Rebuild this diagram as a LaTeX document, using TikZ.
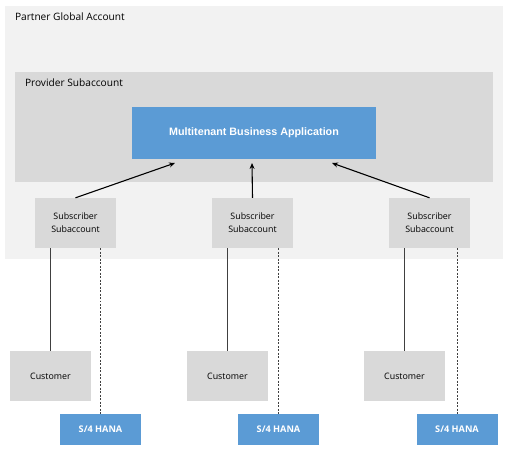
\documentclass[tikz,border=0pt]{standalone}
\usepackage{fontspec}
\usetikzlibrary{arrows.meta}
\setmainfont{Open Sans}
\newfontfamily\appfont{Liberation Sans}
\definecolor{outerbg}{HTML}{F2F2F2}
\definecolor{boxgray}{HTML}{D9D9D9}
\definecolor{sapblue}{HTML}{5B9BD5}
\definecolor{linegray}{HTML}{404040}
\begin{document}
\begin{tikzpicture}[x=1bp,y=-1bp,
  region/.style={anchor=base west,inner sep=0pt,outer sep=0pt,font=\fontsize{10.2}{12}\selectfont},
  graybox/.style={fill=boxgray,minimum width=81bp,minimum height=50bp,inner sep=0pt,align=center,font=\fontsize{8.9}{13}\selectfont},
  bluebox/.style={fill=sapblue,minimum width=81bp,minimum height=31bp,inner sep=0pt,text=white,font=\fontsize{9.2}{11}\selectfont\bfseries},
  conn/.style={draw=linegray,line width=0.6pt},
  dconn/.style={draw=linegray,line width=0.6pt,dash pattern=on 2pt off 1.5pt},
  arr/.style={draw=black,line width=1.1pt,-{Stealth[length=6pt,width=5pt]}}]
\useasboundingbox (0,0) rectangle (510,462);
\fill[white] (0,0) rectangle (510,462);
% regions
\fill[outerbg] (5,6) rectangle (503,259);
\node[region] (gtitle) at (15,21) {Partner Global Account};
\fill[boxgray] (15,72) rectangle (493,182);
\node[region] (ptitle) at (25,87) {Provider Subaccount};
\node[fill=sapblue,minimum width=244bp,minimum height=52bp,inner sep=0pt,text=white,font=\appfont\fontsize{10.8}{12}\selectfont\bfseries] (app) at (254,133) {Multitenant Business Application};
% subscriber subaccounts
\node[graybox] (s1) at (75.5,223) {Subscriber\\Subaccount};
\node[graybox] (s2) at (252.5,223) {Subscriber\\Subaccount};
\node[graybox] (s3) at (429.5,223) {Subscriber\\Subaccount};
% customers
\node[graybox] (c1) at (50.5,376) {Customer};
\node[graybox] (c2) at (227.5,376) {Customer};
\node[graybox] (c3) at (404.5,376) {Customer};
% S/4 HANA
\node[bluebox] (h1) at (100.5,429.5) {S/4 HANA};
\node[bluebox] (h2) at (278.5,429.5) {S/4 HANA};
\node[bluebox] (h3) at (457,429.5) {S/4 HANA};
% arrows
\coordinate (a1) at (175,163);
\coordinate (a2) at (252,163);
\coordinate (a3) at (332,163);
\draw[arr] (s1.north) -- (a1);
\draw[arr] (s2.north) -- (a2);
\draw[arr] (s3.north) -- (a3);
% connectors
\draw[conn] (s1.south -| c1.north) -- (c1.north);
\draw[conn] (s2.south -| c2.north) -- (c2.north);
\draw[conn] (s3.south -| c3.north) -- (c3.north);
\draw[dconn] (s1.south -| h1.north) -- (h1.north);
\draw[dconn] (s2.south -| h2.north) -- (h2.north);
\draw[dconn] (s3.south -| h3.north) -- (h3.north);
\end{tikzpicture}
\end{document}
